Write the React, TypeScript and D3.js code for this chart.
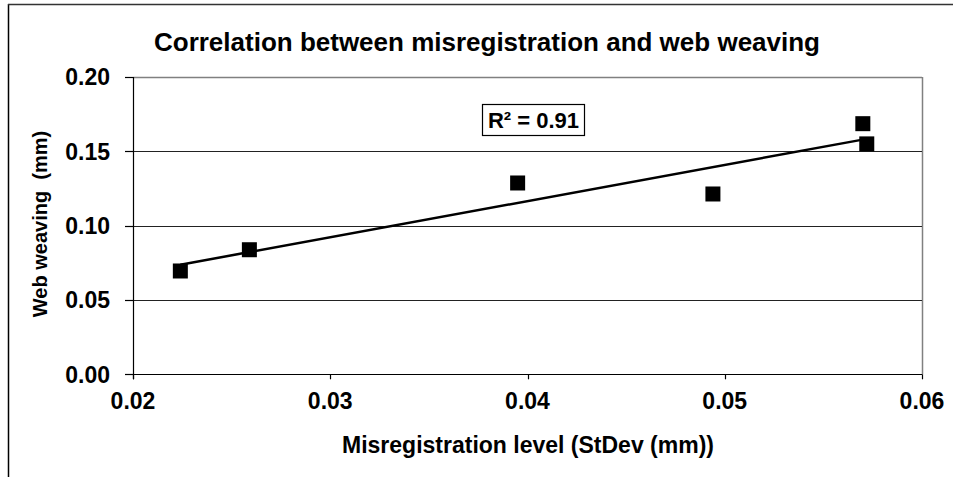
import React from "react";
import * as d3 from "d3";

const misregistration = [0.0224, 0.0259, 0.0395, 0.0494, 0.0570, 0.0572];
const webWeaving = [0.0695, 0.0838, 0.1287, 0.1213, 0.1686, 0.155];
const yTicks = [0.0, 0.05, 0.1, 0.15, 0.2];
const xTicks = [0.02, 0.03, 0.04, 0.05, 0.06];
const titleText = "Correlation between misregistration and web weaving";
const xTitle = "Misregistration level (StDev (mm))";
const yTitle = "Web weaving  (mm)";
const r2Label = "R² = 0.91";

const W = 953;
const H = 477;
const L = 133, R = 922, T = 77, B = 374.3;
const FONT = "Arial, 'Liberation Sans', Helvetica, sans-serif";

export default function App() {
  const x = d3.scaleLinear().domain([0.02, 0.06]).range([L, R]);
  const y = d3.scaleLinear().domain([0, 0.2]).range([B, T]);

  const n = misregistration.length;
  const mx = d3.mean(misregistration)!;
  const my = d3.mean(webWeaving)!;
  let sxy = 0, sxx = 0;
  for (let i = 0; i < n; i++) {
    sxy += (misregistration[i] - mx) * (webWeaving[i] - my);
    sxx += (misregistration[i] - mx) ** 2;
  }
  const slope = sxy / sxx;
  const icpt = my - slope * mx;
  const x0 = d3.min(misregistration)!;
  const x1 = d3.max(misregistration)!;
  const line = d3.line<number>().x((d) => x(d)).y((d) => y(icpt + slope * d));

  const sq = 15;

  return (
    <svg width={W} height={H} style={{ position: "absolute", left: 0, top: 0, background: "#fff" }} fontFamily={FONT}>
      <rect x={0} y={0} width={W} height={H} fill="#fff" />
      {/* outer border */}
      <line x1={8.5} y1={4} x2={8.5} y2={H} stroke="#000" strokeWidth={1.5} />
      <line x1={8} y1={4.5} x2={W} y2={4.5} stroke="#333" strokeWidth={1.5} />

      <text x={487} y={51} textAnchor="middle" fontWeight="bold" fontSize={26}>{titleText}</text>

      {/* plot border top/right */}
      <line x1={L} y1={T + 0.5} x2={R} y2={T + 0.5} stroke="#808080" strokeWidth={1.5} />
      <line x1={R + 0.5} y1={T} x2={R + 0.5} y2={B} stroke="#808080" strokeWidth={1.5} />

      {/* gridlines */}
      {yTicks.filter((t) => t > 0 && t < 0.2).map((t) => (
        <line key={t} x1={L} x2={R} y1={Math.round(y(t)) + 0.5} y2={Math.round(y(t)) + 0.5} stroke="#222" strokeWidth={1} />
      ))}

      {/* axes */}
      <line x1={L} x2={R} y1={Math.round(B) + 0.5} y2={Math.round(B) + 0.5} stroke="#000" strokeWidth={1.2} />
      <line x1={L + 0.5} x2={L + 0.5} y1={T} y2={B + 5} stroke="#000" strokeWidth={1.2} />
      {yTicks.map((t) => (
        <g key={t}>
          <line x1={L - 8} x2={L} y1={Math.round(y(t)) + 0.5} y2={Math.round(y(t)) + 0.5} stroke="#000" strokeWidth={1.2} />
          <text x={110} y={y(t)} dy="0.36em" textAnchor="end" fontWeight="bold" fontSize={23}>{t.toFixed(2)}</text>
        </g>
      ))}
      {xTicks.map((t) => (
        <g key={t}>
          <line x1={Math.round(x(t)) + 0.5} x2={Math.round(x(t)) + 0.5} y1={B} y2={B + 5} stroke="#000" strokeWidth={1.2} />
          <text x={x(t)} y={409} textAnchor="middle" fontWeight="bold" fontSize={23}>{t.toFixed(2)}</text>
        </g>
      ))}

      <text x={528} y={453} textAnchor="middle" fontWeight="bold" fontSize={23}>{xTitle}</text>
      <text transform={`translate(47,224) rotate(-90)`} textAnchor="middle" fontWeight="bold" fontSize={20} style={{ whiteSpace: "pre" }}>{yTitle}</text>

      {/* trendline */}
      <path d={line([x0, x1]) || ""} stroke="#000" strokeWidth={2.5} fill="none" />

      {/* markers */}
      {misregistration.map((v, i) => (
        <rect key={i} x={x(v) - sq / 2} y={y(webWeaving[i]) - sq / 2} width={sq} height={sq} fill="#000" />
      ))}

      {/* R2 box */}
      <rect x={482.5} y={104.5} width={102} height={31} fill="#fff" stroke="#000" strokeWidth={1.2} />
      <text x={533.5} y={120} dy="0.36em" textAnchor="middle" fontWeight="bold" fontSize={22}>{r2Label}</text>
    </svg>
  );
}
